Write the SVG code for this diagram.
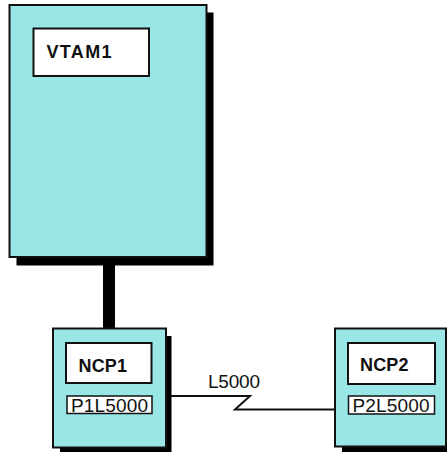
<svg xmlns="http://www.w3.org/2000/svg" width="447" height="452" viewBox="0 0 447 452">
<style>
.shadow{fill:#000}
.box{fill:#99E6E7;stroke:#111;stroke-width:2}
.inner{fill:#fff;stroke:#111;stroke-width:2}
.port{fill:#fff;stroke:#111;stroke-width:1.5}
.bold{font-family:"Liberation Sans",Arial,sans-serif;font-weight:bold;font-size:18px;fill:#111}
.reg{font-family:"Liberation Sans",Arial,sans-serif;font-size:19px;fill:#111}
</style>
<rect width="447" height="452" fill="#fff"/>
<g id="connectors">
<rect x="103" y="258" width="12" height="72" fill="#000"/>
<polyline points="152,396 250,396 235,409.5 348.5,409.5" fill="none" stroke="#111" stroke-width="2"/>
<text class="reg" x="208" y="388" textLength="52">L5000</text>
</g>
<g id="VTAM1">
<rect class="shadow" x="16.5" y="12.5" width="197" height="253"/>
<rect class="box" x="9.5" y="5" width="197" height="252"/>
<rect class="inner" x="33.5" y="28.5" width="115.5" height="47.5"/>
<text class="bold" x="46.5" y="57.5" textLength="65">VTAM1</text>
</g>
<g id="NCP1">
<rect class="shadow" x="60" y="336" width="111.5" height="117"/>
<rect class="box" x="53" y="328.5" width="113" height="119"/>
<rect class="inner" x="66" y="343" width="85.5" height="40"/>
<text class="bold" x="78.5" y="371.5" textLength="48.5">NCP1</text>
<rect class="port" x="67" y="396" width="85" height="17.5"/>
<text class="reg" x="71" y="411.5" textLength="77">P1L5000</text>
</g>
<g id="NCP2">
<rect class="shadow" x="342" y="336" width="110" height="117"/>
<rect class="box" x="335" y="328.5" width="111" height="118"/>
<rect class="inner" x="348" y="343" width="87" height="41"/>
<text class="bold" x="360" y="370.5" textLength="48.5">NCP2</text>
<rect class="port" x="348.5" y="396" width="86" height="18"/>
<text class="reg" x="352.5" y="411.5" textLength="77">P2L5000</text>
</g>
</svg>
